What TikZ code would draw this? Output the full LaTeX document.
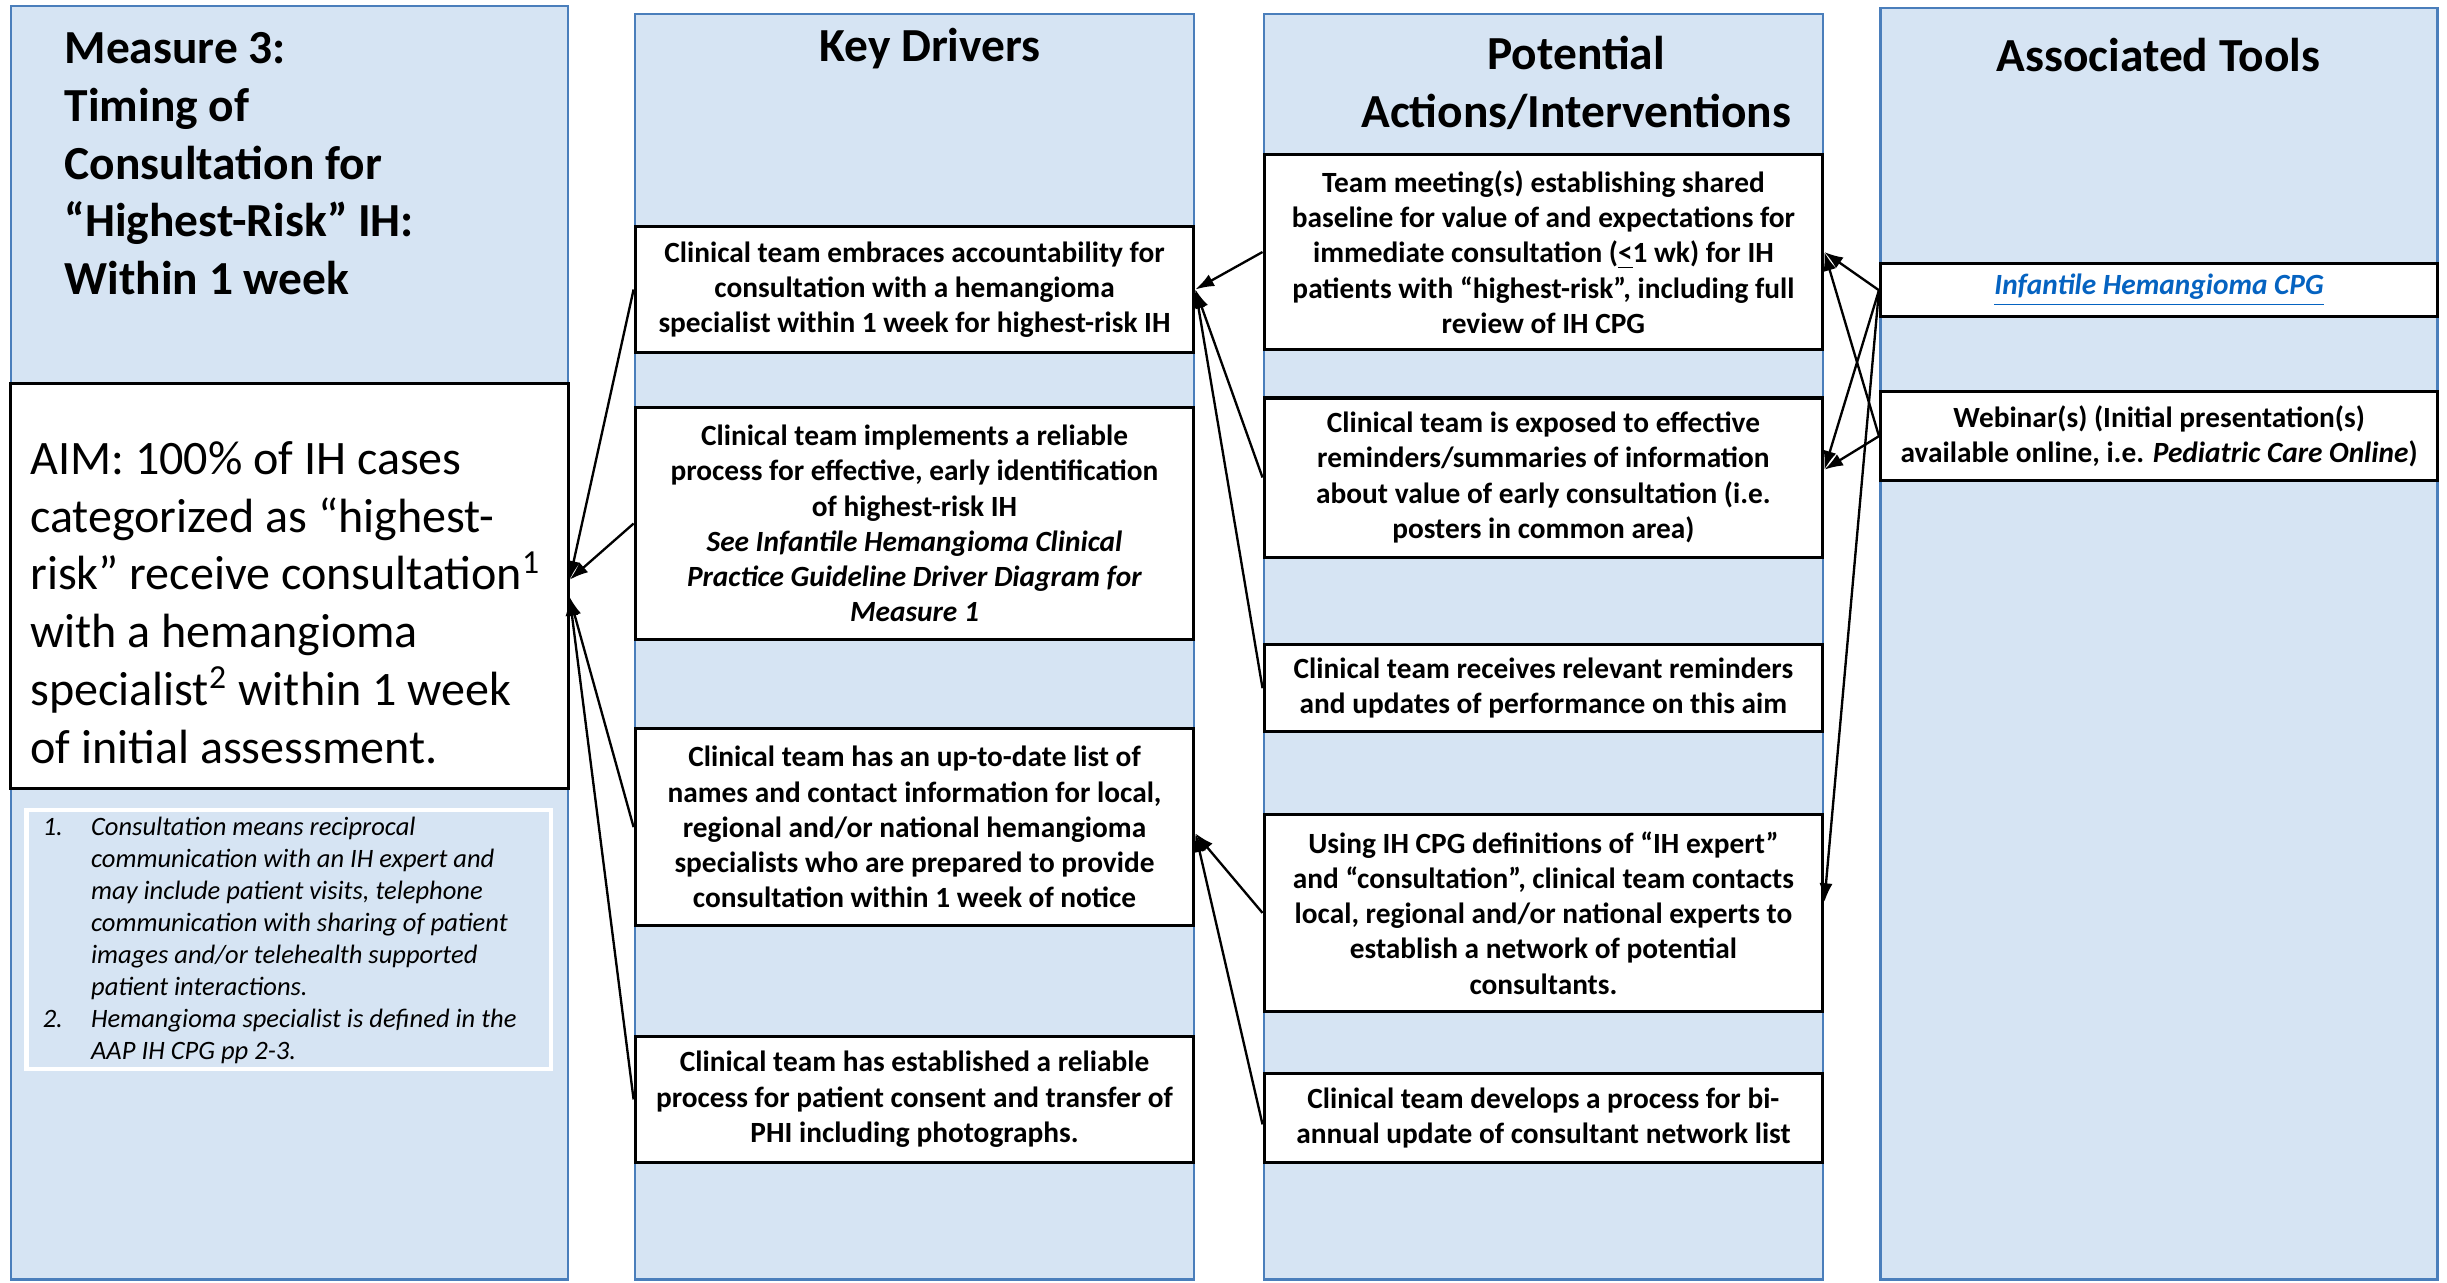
\documentclass[tikz,border=0pt]{standalone}
\usepackage{fontspec}
\setmainfont{Carlito}
\usetikzlibrary{arrows.meta}
\definecolor{colfill}{RGB}{214,228,243}
\definecolor{colline}{RGB}{74,126,187}
\definecolor{linkblue}{RGB}{5,99,193}
\begin{document}
\begin{tikzpicture}[x=0.5pt,y=-0.5pt,
  col/.style={fill=colfill,draw=colline,line width=0.8pt},
  box/.style={draw=black,fill=white,line width=1pt,inner sep=0pt,align=center,minimum width=179pt,font=\fontsize{9.4}{11.3}\selectfont\bfseries},
  arr/.style={-{Latex[length=6pt,width=4.2pt]},line width=0.75pt},
  head/.style={font=\fontsize{15.2}{18.5}\selectfont\bfseries,align=center,inner sep=0pt}]
\useasboundingbox (0,0) rectangle (1568,822);
% columns
\draw[col] (7,4) rectangle (364,820);
\draw[col] (407,9) rectangle (765,820);
\draw[col] (810,9) rectangle (1168,820);
\draw[col] (1205,5) rectangle (1562,820);
% column 1
\node[head,align=left,anchor=west] (title) at (41,105) {Measure 3:\\Timing of\\Consultation for\\“Highest-Risk” IH:\\Within 1 week};
\node[draw=black,fill=white,line width=1pt,inner sep=0pt,minimum width=178.5pt,minimum height=129.5pt] (aim) at (185.5,375.5) {};
\node[anchor=west,align=left,inner sep=0pt,font=\fontsize{15.4}{18.5}\selectfont] (aimtext) at (19,386)
 {AIM: 100\% of IH cases\\categorized as “highest-\\risk” receive consultation\textsuperscript{1}\\with a hemangioma\\specialist\textsuperscript{2} within 1 week\\of initial assessment.};
\draw[white,line width=1.5pt,fill=colfill] (17,519) rectangle (353,685);
\node[anchor=west,align=left,inner sep=0pt,font=\fontsize{8.5}{10.25}\selectfont\itshape] (notes) at (27,602.5)
 {\makebox[15.5pt][l]{1.}Consultation means reciprocal\\
  \hspace*{15.5pt}communication with an IH expert and\\
  \hspace*{15.5pt}may include patient visits, telephone\\
  \hspace*{15.5pt}communication with sharing of patient\\
  \hspace*{15.5pt}images and/or telehealth supported\\
  \hspace*{15.5pt}patient interactions.\\
  \makebox[15.5pt][l]{2.}Hemangioma specialist is defined in the\\
  \hspace*{15.5pt}AAP IH CPG pp 2-3.};
% headers
\node[head] (h2) at (596,31) {Key Drivers};
\node[head] (h3) at (1010,53) {Potential\\Actions/Interventions};
\node[head] (h4) at (1383,35) {Associated Tools};
% drivers
\node[box,minimum height=40.5pt] (d1) at (586,185.5) {Clinical team embraces accountability for\\consultation with a hemangioma\\specialist within 1 week for highest-risk IH};
\node[box,minimum height=74.5pt] (d2) at (586,335.5) {Clinical team implements a reliable\\process for effective, early identification\\of highest-risk IH\\\textit{See Infantile Hemangioma Clinical}\\\textit{Practice Guideline Driver Diagram for}\\\textit{Measure 1}};
\node[box,minimum height=63pt] (d3) at (586,530) {Clinical team has an up-to-date list of\\names and contact information for local,\\regional and/or national hemangioma\\specialists who are prepared to provide\\consultation within 1 week of notice};
\node[box,minimum height=40.5pt] (d4) at (586,704.5) {Clinical team has established a reliable\\process for patient consent and transfer of\\PHI including photographs.};
% actions
\node[box,minimum height=62.5pt] (a1) at (989,161.5) {Team meeting(s) establishing shared\\baseline for value of and expectations for\\immediate consultation (\underline{<}1 wk) for IH\\patients with “highest-risk”, including full\\review of IH CPG};
\node[box,minimum height=51pt] (a2) at (989,306) {Clinical team is exposed to effective\\reminders/summaries of information\\about value of early consultation (i.e.\\posters in common area)};
\node[box,minimum height=28pt] (a3) at (989,441) {Clinical team receives relevant reminders\\and updates of performance on this aim};
\node[box,minimum height=63pt] (a4) at (989,585) {Using IH CPG definitions of “IH expert”\\and “consultation”, clinical team contacts\\local, regional and/or national experts to\\establish a network of potential\\consultants.};
\node[box,minimum height=28.5pt] (a5) at (989,716.5) {Clinical team develops a process for bi-\\annual update of consultant network list};
% tools
\node[box,minimum width=178.5pt,minimum height=17pt] (t1) at (1383.5,186) {\color{linkblue}\itshape\underline{Infantile Hemangioma CPG}};
\node[box,minimum width=178.5pt,minimum height=28.5pt] (t2) at (1383.5,279.5) {Webinar(s) (Initial presentation(s)\\available online, i.e. \textit{Pediatric Care Online})};
% arrows to aim
\draw[arr] (d1.west) -- ([yshift=2pt]aim.east);
\draw[arr] (d2.west) -- ([yshift=2pt]aim.east);
\draw[arr] (d3.west) -- ([yshift=-3.5pt]aim.east);
\draw[arr] (d4.west) -- ([yshift=-3.5pt]aim.east);
% arrows to drivers
\draw[arr] (a1.west) -- (d1.east);
\draw[arr] (a2.west) -- (d1.east);
\draw[arr] (a3.west) -- (d1.east);
\draw[arr] (a4.west) -- ([yshift=-2pt]d3.east);
\draw[arr] ([yshift=-2pt]a5.west) -- ([yshift=-2pt]d3.east);
% arrows to actions
\draw[arr] (t1.west) -- (a1.east);
\draw[arr] (t1.west) -- ([yshift=2.5pt]a2.east);
\draw[arr] (t1.west) -- ([yshift=3.5pt]a4.east);
\draw[arr] (t2.west) -- (a1.east);
\draw[arr] (t2.west) -- ([yshift=2.5pt]a2.east);
\end{tikzpicture}
\end{document}
